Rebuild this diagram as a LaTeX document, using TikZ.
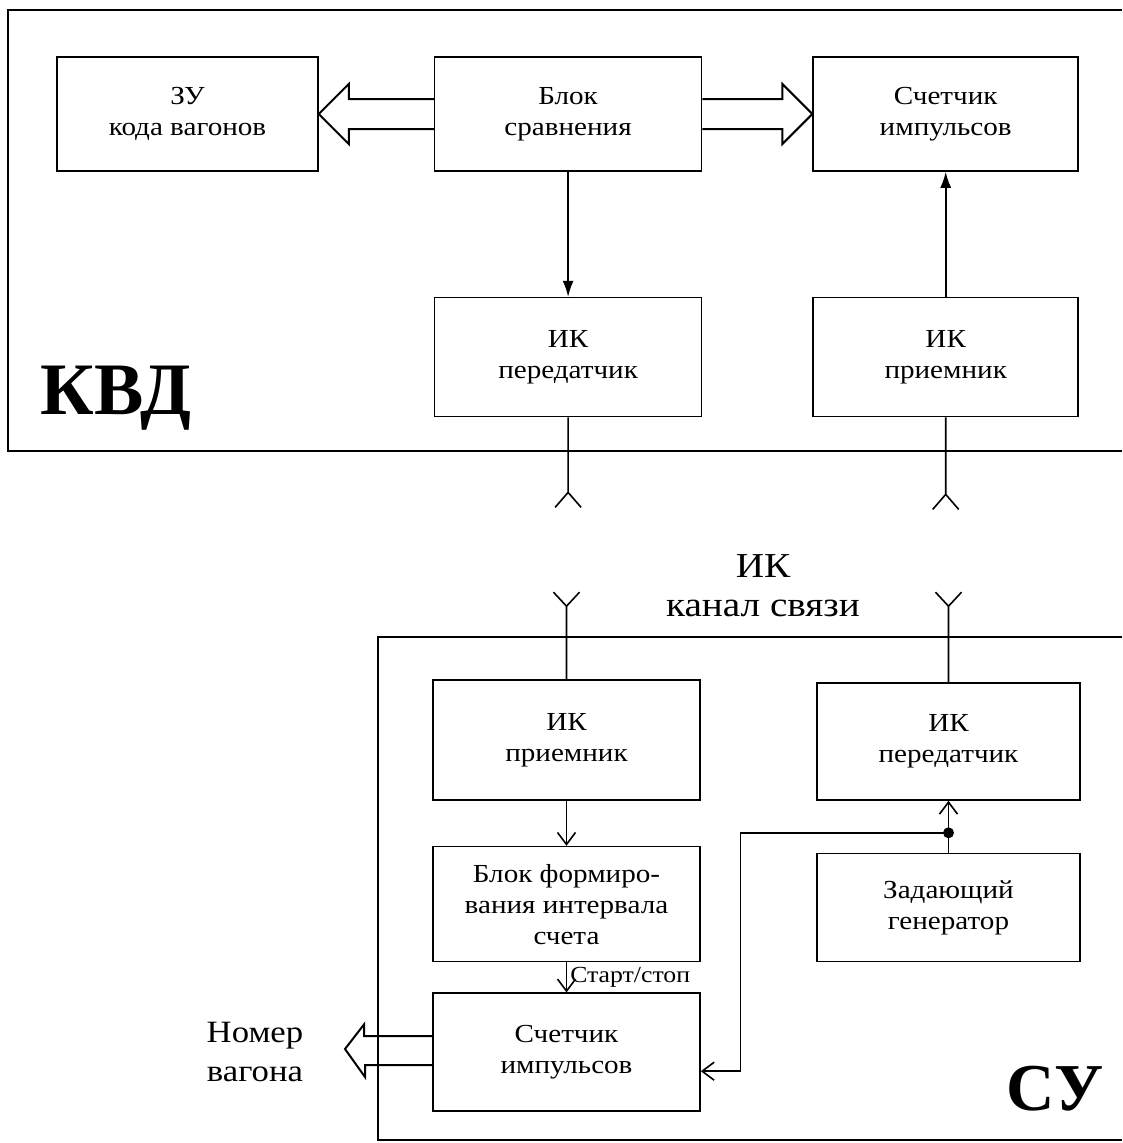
\documentclass[tikz,border=0pt]{standalone}
\usepackage{fontspec}
\setmainfont[FakeStretch=1.12]{Liberation Serif}
\newfontfamily\namefont{Liberation Serif}
\usetikzlibrary{positioning,arrows.meta}

\tikzset{
  block/.style={draw, line width=1.6pt, minimum width=267pt, minimum height=115pt,
    align=center, inner sep=0pt, font=\fontsize{26}{31}\selectfont},
  frame/.style={line width=2.4pt},
  wire/.style={line width=1.6pt},
  sarrow/.style={wire, -{Straight Barb[length=12pt,width=18pt,line width=1.6pt]}},
  farrow/.style={wire, -{Latex[length=16pt,width=11pt]}},
  hollow/.style={line width=2pt, line join=miter},
  bigname/.style={font=\namefont\bfseries\fontsize{74}{80}\selectfont, inner sep=0pt},
}

\begin{document}
\begin{tikzpicture}[x=1pt, y=-1pt]
\useasboundingbox (0,0) rectangle (1122,1143);

% KVD
\draw[frame] (1122,10) -- (8,10) -- (8,451) -- (1122,451);
\node[block, minimum width=261pt, minimum height=114pt] (zu) at (187.5,114) {ЗУ\\кода вагонов};
\node[block, minimum height=114pt] (sravn) [right=115pt of zu] {Блок\\сравнения};
\node[block, minimum width=265pt, minimum height=114pt] (schet1) [right=110pt of sravn] {Счетчик\\импульсов};
\node[block, minimum height=119pt] (pered1) [below=125pt of sravn] {ИК\\передатчик};
\node[block, minimum width=265pt, minimum height=119pt] (prijom1) [below=125pt of schet1] {ИК\\приемник};
\node[bigname, anchor=base] (kvd) at (116,414) {КВД};

\draw[hollow] (sravn.west) ++(0,-15) -- ++(-85,0) -- ++(0,-15) -- (zu.east)
  -- ++(30,30) -- ++(0,-15) -- ++(85,0);
\draw[hollow] (sravn.east) ++(0,-15) -- ++(80,0) -- ++(0,-15) -- (schet1.west)
  -- ++(-30,30) -- ++(0,-15) -- ++(-80,0);
\draw[farrow] (sravn.south) -- (pered1.north);
\draw[farrow] (prijom1.north) -- (schet1.south);

% IR channel
\coordinate (a1) at ([yshift=-75pt]pered1.south);
\coordinate (a2) at ([yshift=-77pt]prijom1.south);
\draw[wire] (pered1.south) -- (a1) -- ++(-13,15) (a1) -- ++(13,15);
\draw[wire] (prijom1.south) -- (a2) -- ++(-13,15) (a2) -- ++(13,15);
\node[align=center, inner sep=0pt, font=\fontsize{35}{39}\selectfont] (chan) at (763,586) {ИК\\канал связи};

% SU
\draw[frame] (1122,637) -- (378,637) -- (378,1140) -- (1122,1140);
\node[block, minimum height=120pt] (prijom2) at (566.5,740) {ИК\\приемник};
\node[block, minimum height=115pt] (blok) [below=45pt of prijom2] {Блок формиро-\\вания интервала\\счета};
\node[block, minimum height=118pt] (schet2) [below=30pt of blok] {Счетчик\\импульсов};
\node[block, minimum width=263pt, minimum height=117pt] (pered2) at (948.5,741.5) {ИК\\передатчик};
\node[block, minimum width=263pt, minimum height=108pt] (gen) [below=52pt of pered2] {Задающий\\генератор};
\node[bigname, anchor=base, font=\namefont\bfseries\fontsize{67}{72}\selectfont] (su) at (1055,1110) {СУ};

\coordinate (a3) at ([yshift=73pt]prijom2.north);
\coordinate (a4) at ([yshift=76pt]pered2.north);
\draw[wire] (prijom2.north) -- (a3) -- ++(-13,-14) (a3) -- ++(13,-14);
\draw[wire] (pered2.north) -- (a4) -- ++(-13,-14) (a4) -- ++(13,-14);

\draw[sarrow] (prijom2.south) -- (blok.north);
\draw[sarrow] (blok.south) -- node[right, inner sep=3pt, font=\fontsize{23}{26}\selectfont] {Старт/стоп} (schet2.north);
\coordinate (dot) at ([yshift=20pt]gen.north);
\draw[sarrow] (gen.north) -- (pered2.south);
\fill (dot) circle (5.5pt);
\draw[sarrow] (dot) -- ++(-208,0) |- ([yshift=-19pt]schet2.east);

\coordinate (out) at (345,1049);
\draw[hollow] (schet2.west) ++(0,-16) -- ++(-68,0) -- ++(0,-12) -- (out)
  -- ++(20,28) -- ++(0,-12) -- ++(68,0);
\node[align=center, inner sep=0pt, font=\fontsize{31}{39}\selectfont] (nomer) at (255,1052) {Номер\\вагона};
\end{tikzpicture}
\end{document}
